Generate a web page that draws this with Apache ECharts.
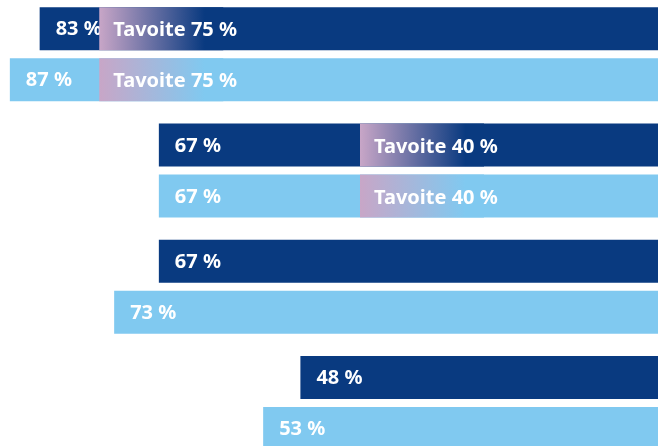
<!DOCTYPE html>
<html>
<head>
<meta charset="utf-8">
<script src="https://cdn.jsdelivr.net/npm/echarts@6/dist/echarts.min.js"></script>
<style>
  html, body { margin: 0; padding: 0; background: #fff; overflow: hidden; }
  body { width: 658px; height: 446px; position: relative; }
  /* the plot area reaches past the window (0 % sits at the right edge,
     100 % and the last bar are cut off), so the div is offset */
  #chart { position: absolute; left: -87px; top: -4.17px; width: 745px; height: 465.33px; }
</style>
</head>
<body>
<div id="chart"></div>
<script>
// data
const categories = ['Ryhmä 1', 'Ryhmä 2', 'Ryhmä 3', 'Ryhmä 4'];
const darkValues = [83, 67, 67, 48];
const lightValues = [87, 67, 73, 53];
const targetValues = [75, 40, null, null];

// layout / colours
const DARK = '#093a80';
const LIGHT = '#80c9f0';
const PINK = '#c8a6c7';
const BAR_H = 43;   // bar thickness in px
const GAP = 8;      // gap between the two bars of a group
const TARGET_W = 124; // gradient block width
const FONT = '"Noto Sans", sans-serif';

const chart = echarts.init(document.getElementById('chart'));

// gradient block + "Tavoite" text drawn on top of both bars of a group
function renderTarget(params, api) {
  const t = api.value(0);
  const idx = api.value(1);
  const p = api.coord([t, idx]);
  const top = p[1] - (BAR_H * 2 + GAP) / 2;
  const rows = [
    { y: top, color: DARK },
    { y: top + BAR_H + GAP, color: LIGHT }
  ];
  const children = [];
  rows.forEach(function (r) {
    children.push({
      type: 'rect',
      shape: { x: p[0], y: r.y, width: TARGET_W, height: BAR_H },
      style: {
        fill: new echarts.graphic.LinearGradient(0, 0, 1, 0, [
          { offset: 0, color: PINK },
          { offset: 0.85, color: r.color },
          { offset: 1, color: r.color }
        ])
      }
    });
    children.push({
      type: 'text',
      style: {
        text: 'Tavoite ' + t + ' %',
        x: p[0] + 14,
        y: r.y + BAR_H / 2 + 2,
        fill: '#fff',
        font: 'bold 20px ' + FONT,
        align: 'left',
        verticalAlign: 'middle'
      }
    });
  });
  return { type: 'group', children: children };
}

const barLabel = {
  show: true,
  position: 'insideLeft',
  distance: 16,
  offset: [0, 1],
  formatter: '{c} %',
  color: '#fff',
  fontSize: 20,
  fontWeight: 'bold',
  fontFamily: FONT
};

const option = {
  animation: false,
  grid: {
    left: 0,
    right: 0,
    top: 0,
    bottom: 0,
    containLabel: false
  },
  xAxis: {
    type: 'value',
    min: 0,
    max: 100,
    inverse: true,
    show: false
  },
  yAxis: {
    type: 'category',
    data: categories,
    inverse: true,
    show: false
  },
  series: [
    {
      type: 'bar',
      name: 'dark',
      data: darkValues,
      barWidth: BAR_H,
      barGap: (GAP / BAR_H * 100) + '%',
      itemStyle: { color: DARK },
      label: barLabel,
      z: 2
    },
    {
      type: 'bar',
      name: 'light',
      data: lightValues,
      barWidth: BAR_H,
      barGap: (GAP / BAR_H * 100) + '%',
      itemStyle: { color: LIGHT },
      label: barLabel,
      z: 2
    },
    {
      type: 'custom',
      name: 'tavoite',
      renderItem: renderTarget,
      data: targetValues
        .map(function (v, i) { return v == null ? null : [v, i]; })
        .filter(function (d) { return d; }),
      encode: { x: 0, y: 1 },
      z: 3
    }
  ]
};

chart.setOption(option);
</script>
</body>
</html>
